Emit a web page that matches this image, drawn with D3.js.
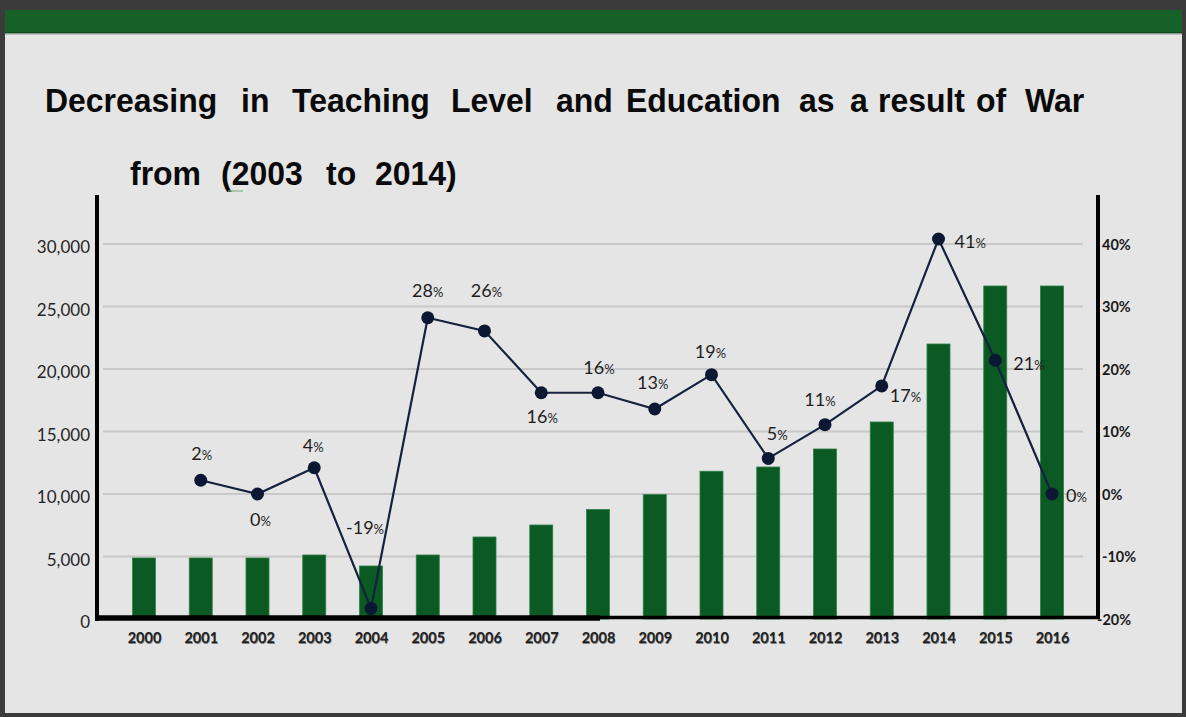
<!DOCTYPE html>
<html><head><meta charset="utf-8">
<script src="https://cdn.jsdelivr.net/npm/d3@7"></script>
<style>html,body{margin:0;padding:0;background:#3b3b3b;}svg{display:block;}</style>
</head><body>
<svg id="chart" width="1186" height="717"></svg>
<script>
// ---- data ----
const years = ["2000","2001","2002","2003","2004","2005","2006","2007","2008","2009","2010","2011","2012","2013","2014","2015","2016"];
const barValues = [4880, 4880, 4880, 5120, 4240, 5120, 6560, 7520, 8760, 9950, 11820, 12160, 13600, 15760, 22000, 26640, 26640];
const lineYears = ["2001","2002","2003","2004","2005","2006","2007","2008","2009","2010","2011","2012","2013","2014","2015","2016"];
const lineValues = [2.2, 0, 4.2, -18.3, 28.2, 26.1, 16.2, 16.2, 13.6, 19.1, 5.7, 11.1, 17.3, 40.8, 21.4, 0];
const lineLabels = ["2","0","4","-19","28","26","16","16","13","19","5","11","17","41","21","0"];
const leftTicks = [0, 5000, 10000, 15000, 20000, 25000, 30000];
const rightTicks = [-20, -10, 0, 10, 20, 30, 40];
const titleLine1 = ["Decreasing","in","Teaching","Level","and","Education","as","a","result","of","War"];
const titleLine2 = ["from","(2003","to","2014)"];

// ---- layout (not data) ----
const title1X = [45, 241, 292, 451, 556, 626, 799, 850, 878, 976, 1025];
const title2X = [130, 221, 326, 375];
// label placement relative to point: [anchor, dx, dy]
const labelNudge = [
  ["middle",1,-20],["middle",3,32],["middle",-1,-16],["middle",-6,-74],
  ["middle",0,-21],["middle",2,-34],["middle",1,30],["middle",1,-19],
  ["middle",-2,-20],["middle",-1,-17],["middle",9,-18],["middle",-5,-19],
  ["start",8,16],["start",16,9],["start",18,10],["start",14,8]
];

const svg = d3.select("#chart");

// frame
svg.append("rect").attr("x",0).attr("y",0).attr("width",1186).attr("height",717).attr("fill","#3b3b3b");
svg.append("rect").attr("x",5).attr("y",10).attr("width",1177).attr("height",703).attr("fill","#e5e5e5");
svg.append("rect").attr("x",5).attr("y",10).attr("width",1177).attr("height",22).attr("fill","#156128");
svg.append("rect").attr("x",5).attr("y",32).attr("width",1177).attr("height",1.5).attr("fill","#0b4a1b");
svg.append("rect").attr("x",5).attr("y",33.5).attr("width",1177).attr("height",1).attr("fill","#9a9a9a");

// title
const tg = svg.append("g").attr("font-family","'Liberation Sans', Arial, sans-serif").attr("font-weight","bold").attr("font-size",34).attr("fill","#0a0a0a");
titleLine1.forEach((w,i)=>{
  tg.append("text").attr("transform",`translate(${title1X[i]},112) scale(0.94,1)`).text(w);
});
titleLine2.forEach((w,i)=>{
  tg.append("text").attr("transform",`translate(${title2X[i]},185) scale(0.94,1)`).text(w);
});
svg.append("line").attr("x1",228).attr("x2",243).attr("y1",191).attr("y2",191).attr("stroke","#7fb58a").attr("stroke-width",1.2);

// scales
const x = d3.scalePoint().domain(years).range([144, 1052]);
const barW = 23;
const yL = d3.scaleLinear().domain([0, 34000]).range([619, 194]);
const yR = d3.scaleLinear().domain([-20, 48]).range([619, 194]);

// gridlines
svg.append("g").selectAll("line").data(leftTicks.filter(d=>d>0)).join("line")
  .attr("x1",103).attr("x2",1083).attr("y1",d=>yL(d)).attr("y2",d=>yL(d))
  .attr("stroke","#c8c8c8").attr("stroke-width",2);

// bars
svg.append("g").selectAll("rect").data(barValues).join("rect")
  .attr("x",(d,i)=>x(years[i])-barW/2).attr("width",barW)
  .attr("y",d=>yL(d)).attr("height",d=>yL(0)-yL(d))
  .attr("fill","#0b5a23").attr("stroke","#2c7f45").attr("stroke-width",0.8);

// left axis labels
const leftAxis = d3.axisLeft(yL).tickValues(leftTicks).tickFormat(d3.format(",")).tickSize(0).tickPadding(0);
const gl = svg.append("g").attr("transform","translate(90,0)").call(leftAxis);
gl.select(".domain").remove();
gl.selectAll("text").attr("font-family","Lato, 'Noto Sans', sans-serif").attr("font-size",17).attr("fill","#262626").attr("dy","0.5em");

// right axis labels
const rightAxis = d3.axisRight(yR).tickValues(rightTicks).tickFormat(d=>d+"%").tickSize(0).tickPadding(0);
const gr = svg.append("g").attr("transform","translate(1102,0)").call(rightAxis);
gr.select(".domain").remove();
gr.selectAll("text").attr("font-family","Lato, 'Noto Sans', sans-serif").attr("font-size",14.5).attr("font-weight",700).attr("fill","#1a1a1a").attr("dy","0.35em")
  .attr("x",d=>d===-20?-5:0);

// x axis labels
const xAxis = d3.axisBottom(x).tickSize(0).tickPadding(0);
const gx = svg.append("g").attr("transform","translate(0,633)").call(xAxis);
gx.select(".domain").remove();
gx.selectAll("text").attr("font-family","Lato, 'Noto Sans', sans-serif").attr("font-size",14.5).attr("font-weight",700).attr("fill","#222").attr("dy","0.71em")
  .style("text-shadow","0.6px 0.8px 0.6px rgba(0,0,0,0.45)");

// axis lines
svg.append("line").attr("x1",97).attr("x2",97).attr("y1",195).attr("y2",621).attr("stroke","#000").attr("stroke-width",4);
svg.append("line").attr("x1",1098).attr("x2",1098).attr("y1",195).attr("y2",619).attr("stroke","#000").attr("stroke-width",4);
svg.append("line").attr("x1",95).attr("x2",600).attr("y1",618).attr("y2",618).attr("stroke","#000").attr("stroke-width",5.5);
svg.append("line").attr("x1",600).attr("x2",1100).attr("y1",617.5).attr("y2",617.5).attr("stroke","#000").attr("stroke-width",3.5);

// line
const line = d3.line().x((d,i)=>x(lineYears[i])).y(d=>yR(d));
svg.append("path").datum(lineValues).attr("d",line).attr("fill","none").attr("stroke","#14223f").attr("stroke-width",2.2);
svg.append("g").selectAll("circle").data(lineValues).join("circle")
  .attr("cx",(d,i)=>x(lineYears[i])).attr("cy",d=>yR(d)).attr("r",6.5).attr("fill","#0b1733");

// point labels
const lg = svg.append("g").attr("font-family","Lato, 'Noto Sans', sans-serif").attr("fill","#1e1e1e");
lineValues.forEach((v,i)=>{
  const n = labelNudge[i];
  const t = lg.append("text").attr("x",x(lineYears[i])+n[1]).attr("y",yR(v)+n[2]).attr("text-anchor",n[0]);
  t.append("tspan").attr("font-size",18).text(lineLabels[i]);
  t.append("tspan").attr("font-size",13).text("%");
});
</script>
</body></html>
